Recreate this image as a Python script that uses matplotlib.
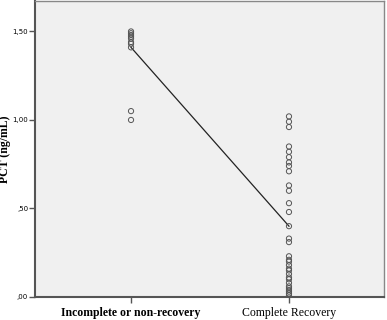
import numpy as np
import matplotlib
matplotlib.use("Agg")
from matplotlib import pyplot as plt

categories = ["Incomplete or non-recovery", "Complete Recovery"]

# PCT values per group
incomplete = [1.50, 1.49, 1.48, 1.47, 1.46, 1.44, 1.43, 1.41, 1.05, 1.00]
complete = [1.02, 0.99, 0.96,
            0.85, 0.82, 0.79, 0.76, 0.74, 0.71,
            0.63, 0.60, 0.53, 0.48, 0.40, 0.33, 0.31,
            0.23, 0.21, 0.20, 0.18, 0.16, 0.15, 0.13, 0.11,
            0.10, 0.08, 0.06, 0.05, 0.04, 0.03, 0.02, 0.01]
line_vals = [1.41, 0.40]

yticks = [0.0, 0.5, 1.0, 1.5]
ytick_labels = [",00", ",50", "1,00", "1,50"]

fig = plt.figure(figsize=(3.87, 3.2), dpi=100)
ax = fig.add_axes([0.0904, 0.0719, 0.9016, 0.925])
ax.set_facecolor("#f0f0f0")

for i, vals in enumerate([incomplete, complete]):
    ax.scatter(np.full(len(vals), i), vals, s=14, facecolors="none",
               edgecolors="#555555", linewidths=0.7, zorder=3)
ax.plot([0, 1], line_vals, color="#222222", linewidth=0.9, zorder=2)

ax.set_xlim(-0.608, 1.601)
ax.set_ylim(0, 1.672)
ax.set_xticks([0, 1])
ax.set_xticklabels(categories, family="Liberation Serif", fontsize=8.5)
ax.get_xticklabels()[0].set_fontweight("bold")
ax.set_yticks(yticks)
ax.set_yticklabels(ytick_labels, fontsize=5)
ax.tick_params(axis="both", length=4, width=1, color="#555555")
ax.tick_params(axis="x", pad=3)
ax.tick_params(axis="y", pad=1)

for side in ["left", "bottom"]:
    ax.spines[side].set_color("#555555")
    ax.spines[side].set_linewidth(1.5)
for side in ["top", "right"]:
    ax.spines[side].set_color("#888888")
    ax.spines[side].set_linewidth(1.0)

ax.set_ylabel("PCT (ng/mL)", family="Liberation Serif", fontweight="bold",
              fontsize=8.5)
ax.yaxis.set_label_coords(-0.068, 0.5)

fig.savefig("out.png", dpi=100)
